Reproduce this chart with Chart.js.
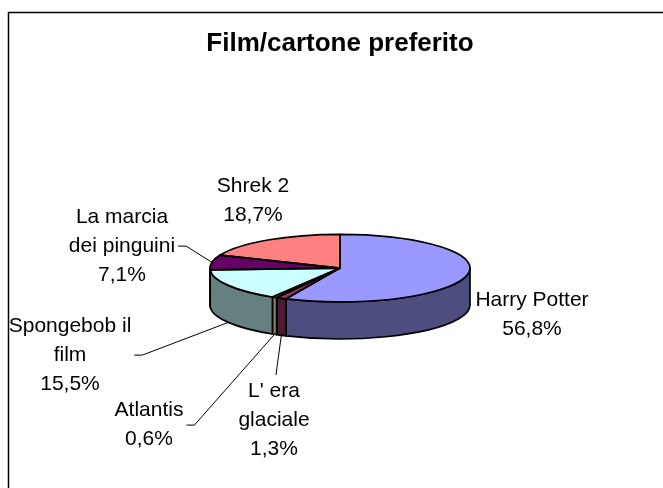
<!DOCTYPE html>
<html>
<head>
<meta charset="utf-8">
<script src="https://cdn.jsdelivr.net/npm/chart.js@4.4.0/dist/chart.umd.min.js"></script>
<style>
    html, body { margin: 0; padding: 0; background: #fff; }
    #wrap { width: 663px; height: 488px; }
</style>
</head>
<body>
<div id="wrap"><canvas id="film-chart" width="663" height="488"></canvas></div>
<script>
var chartTitle = 'Film/cartone preferito';
var categories = ['Harry Potter', "L' era glaciale", 'Atlantis', 'Spongebob il film', 'La marcia dei pinguini', 'Shrek 2'];
var percents = [56.8, 1.3, 0.6, 15.5, 7.1, 18.7];
var labelLines = [['Harry Potter'], ["L' era", 'glaciale'], ['Atlantis'], ['Spongebob il', 'film'], ['La marcia', 'dei pinguini'], ['Shrek 2']];
var topColors = ['#9999FF', '#993366', '#FFFFCC', '#CCFFFF', '#660066', '#FF8080'];

// where each label box sits, relative to the pie centre, and where its leader line leaves it
var labelSpots = [
    { dx: 192, dy: 47, leader: null },
    { dx: -66, dy: 152, leader: 'top' },
    { dx: -191, dy: 157, leader: 'right' },
    { dx: -270, dy: 87, leader: 'right' },
    { dx: -218, dy: -22, leader: 'right' },
    { dx: -87, dy: -67, leader: null }
];

var tilt = 0.26;
var depth = 37;
var lineGap = 29;
var labelFont = '21px "Liberation Sans", Arial, sans-serif';

function darker(hex) {
    var n = parseInt(hex.slice(1), 16);
    var r = Math.round(((n >> 16) & 255) / 2),
        g = Math.round(((n >> 8) & 255) / 2),
        b = Math.round((n & 255) / 2);
    return 'rgb(' + r + ',' + g + ',' + b + ')';
}

function fmt(v) {
    return v.toFixed(1).replace('.', ',') + '%';
}

const pie3d = {
    id: 'pie3d',
    beforeDraw(chart) {
        const ctx = chart.ctx;
        ctx.save();
        ctx.strokeStyle = '#000';
        ctx.lineWidth = 1.5;
        ctx.beginPath();
        ctx.moveTo(8.5, 700);
        ctx.lineTo(8.5, 12.5);
        ctx.lineTo(700, 12.5);
        ctx.stroke();
        ctx.restore();
    },
    beforeDatasetsDraw(chart) {
        const ctx = chart.ctx;
        const arcs = chart.getDatasetMeta(0).data;
        const cx = arcs[0].x, cy = arcs[0].y, R = arcs[0].outerRadius, r = R * tilt;

        // side walls, only the front half shows
        ctx.save();
        ctx.lineWidth = 1.7;
        ctx.strokeStyle = '#000';
        ctx.lineJoin = 'round';
        arcs.forEach(function(arc, i) {
            const a0 = Math.max(arc.startAngle, 0);
            const a1 = Math.min(arc.endAngle, Math.PI);
            if (a1 <= a0) return;
            ctx.beginPath();
            ctx.ellipse(cx, cy, R, r, 0, a0, a1);
            ctx.lineTo(cx + R * Math.cos(a1), cy + r * Math.sin(a1) + depth);
            ctx.ellipse(cx, cy + depth, R, r, 0, a1, a0, true);
            ctx.closePath();
            ctx.fillStyle = darker(topColors[i]);
            ctx.fill();
            ctx.stroke();
        });
        ctx.restore();

        // squash the round pie into the tilted ellipse
        ctx.save();
        ctx.translate(cx, cy);
        ctx.scale(1, tilt);
        ctx.translate(-cx, -cy);
    },
    afterDatasetsDraw(chart) {
        const ctx = chart.ctx;
        ctx.restore();

        const arcs = chart.getDatasetMeta(0).data;
        const cx = arcs[0].x, cy = arcs[0].y, R = arcs[0].outerRadius, r = R * tilt;

        ctx.save();
        ctx.lineWidth = 1.7;
        ctx.strokeStyle = '#000';
        ctx.lineJoin = 'round';
        arcs.forEach(function(arc) {
            ctx.beginPath();
            ctx.moveTo(cx, cy);
            ctx.ellipse(cx, cy, R, r, 0, arc.startAngle, arc.endAngle);
            ctx.closePath();
            ctx.stroke();
        });
        ctx.restore();

        // labels + leader lines
        ctx.save();
        ctx.font = labelFont;
        ctx.fillStyle = '#000';
        ctx.textAlign = 'center';
        ctx.textBaseline = 'middle';
        arcs.forEach(function(arc, i) {
            const spot = labelSpots[i];
            const lines = labelLines[i].concat([fmt(percents[i])]);
            const bx = cx + spot.dx, by = cy + spot.dy;
            const top = by - (lines.length - 1) * lineGap / 2;
            let w = 0;
            lines.forEach(function(t, k) {
                ctx.fillText(t, bx, top + k * lineGap);
                w = Math.max(w, ctx.measureText(t).width);
            });

            if (!spot.leader) return;
            const mid = (arc.startAngle + arc.endAngle) / 2;
            let px = cx + R * Math.cos(mid), py = cy + r * Math.sin(mid);
            if (Math.sin(mid) > 0) py += depth;
            ctx.beginPath();
            ctx.lineWidth = 1;
            ctx.strokeStyle = '#000';
            if (spot.leader === 'right') {
                const sx = bx + w / 2 + 3;
                ctx.moveTo(sx, by);
                ctx.lineTo(sx + 8, by);
            } else {
                const sy = top - 16;
                ctx.moveTo(bx + 2, sy);
                ctx.lineTo(bx + 3, sy - 8);
            }
            ctx.lineTo(px, py);
            ctx.stroke();
        });
        ctx.restore();
    }
};

const ctx = document.getElementById('film-chart').getContext('2d');
const myChart = new Chart(ctx, {
    type: 'pie',
    data: {
        labels: categories,
        datasets: [{
            data: percents,
            backgroundColor: topColors,
            borderWidth: 0
        }]
    },
    options: {
        responsive: false,
        animation: false,
        radius: 130,
        layout: {
            padding: { left: 17, right: 0, top: 0, bottom: 11 }
        },
        plugins: {
            legend: { display: false },
            tooltip: { enabled: false },
            title: {
                display: true,
                text: chartTitle,
                color: '#000',
                font: { family: '"Liberation Sans", Arial, sans-serif', size: 26, weight: 'bold' },
                padding: { top: 28, bottom: 0 }
            }
        }
    },
    plugins: [pie3d]
});
</script>
</body>
</html>
